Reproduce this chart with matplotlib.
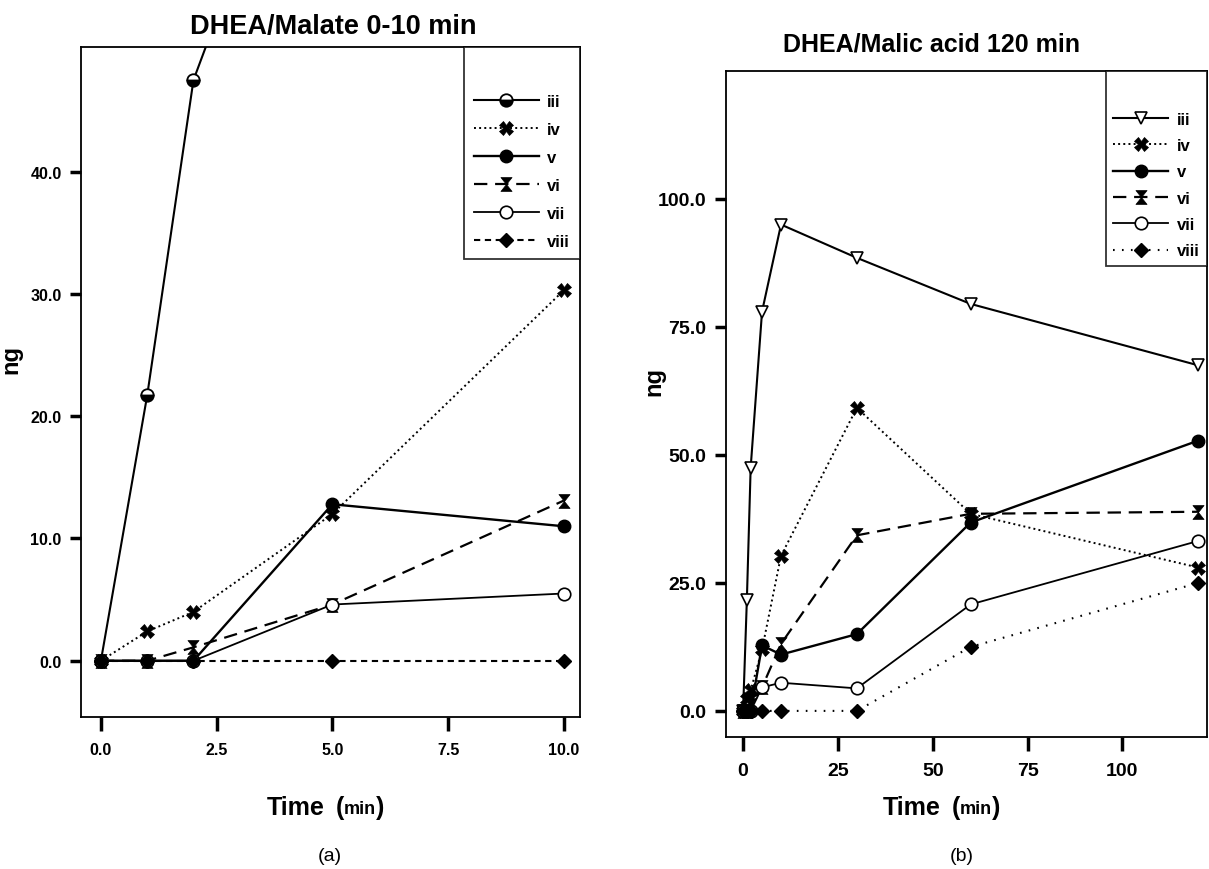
import numpy as np
import matplotlib
matplotlib.use("Agg")
from matplotlib import pyplot as plt
from matplotlib.path import Path
from matplotlib.ticker import FormatStrFormatter

plt.rcParams['font.family'] = ['Liberation Sans', 'DejaVu Sans']

# sampling times (min)
times = [0, 1, 2, 5, 10, 30, 60, 120]
n_short = 5  # first five samples are the 0-10 min run

# amounts (ng) for each compound
iii = [0.0, 21.7, 47.5, 78.0, 95.0, 88.5, 79.5, 67.5]
iv = [0.0, 2.4, 4.0, 12.0, 30.3, 59.2, 38.5, 28.0]
v = [0.0, 0.0, 0.0, 12.8, 11.0, 15.0, 36.8, 52.8]
vi = [0.0, 0.0, 1.1, 4.6, 13.1, 34.3, 38.5, 38.9]
vii = [0.0, 0.0, 0.0, 4.6, 5.5, 4.4, 20.8, 33.2]
viii = [0.0, 0.0, 0.0, 0.0, 0.0, 0.0, 12.5, 25.0]

names = ['iii', 'iv', 'v', 'vi', 'vii', 'viii']
series = [iii, iv, v, vi, vii, viii]

ticks_a_x = [0, 2.5, 5, 7.5, 10]
ticks_a_y = [0, 10, 20, 30, 40]
ticks_b_x = [0, 25, 50, 75, 100]
ticks_b_y = [0, 25, 50, 75, 100]

W, H = 1209, 870

# hourglass marker (two triangles tip to tip)
hourglass = Path([(-0.8, 1), (0.8, 1), (-0.8, -1), (0.8, -1), (-0.8, 1)],
                 [Path.MOVETO, Path.LINETO, Path.LINETO, Path.LINETO, Path.CLOSEPOLY])


def styles(panel):
    # one style dict per compound, same order as names
    iii_style = dict(ls='-', lw=1.5, marker='o', ms=9, fillstyle='bottom',
                     mfc='black', mfcalt='white', mec='black', mew=1.3)
    if panel == 'b':
        iii_style = dict(ls='-', lw=1.5, marker='v', ms=9, mfc='white', mec='black', mew=1.2)
    viii_dash = (3, 2.2) if panel == 'a' else (0.8, 3.5)
    return [
        iii_style,
        dict(ls=':', lw=1.4, marker='X', ms=10, mfc='black', mec='black', mew=0.5),
        dict(ls='-', lw=1.7, marker='o', ms=9, mfc='black', mec='black'),
        dict(ls=(0, (6, 3.5)), lw=1.6, marker=hourglass, ms=10, mfc='black', mec='black', mew=0.5),
        dict(ls='-', lw=1.3, marker='o', ms=9, mfc='white', mec='black', mew=1.2),
        dict(ls=(0, viii_dash), lw=1.5, marker='D', ms=7, mfc='black', mec='black'),
    ]


def px_axes(left, right, top, bottom):
    return fig.add_axes([left / W, 1 - bottom / H, (right - left) / W, (bottom - top) / H])


def px_in_axes(ax, x, y):
    # figure pixel position -> axes fraction
    l, b, w, h = ax.get_position().bounds
    return (x / W - l) / w, (1 - y / H - b) / h


def style_axes(ax, fmt, size):
    for s in ax.spines.values():
        s.set_linewidth(1.3)
    ax.tick_params(direction='out', length=8, width=2.5, pad=6)
    ax.tick_params(axis='x', length=10, pad=8)
    ax.yaxis.set_major_formatter(FormatStrFormatter('%.1f'))
    ax.xaxis.set_major_formatter(FormatStrFormatter(fmt))
    for label in ax.get_xticklabels() + ax.get_yticklabels():
        label.set_fontsize(size)
        label.set_fontweight('bold')


def add_legend(ax, spacing, top_gap, hlen, pad):
    leg = ax.legend(loc='upper right', borderaxespad=0, frameon=True, fancybox=False,
                    edgecolor='black', handlelength=hlen, labelspacing=spacing, handletextpad=0.5,
                    borderpad=pad, prop={'size': 12, 'weight': 'bold'}, title=' ', title_fontsize=top_gap)
    leg.get_frame().set_linewidth(1.3)
    return leg


def time_label(x0, y0):
    # "Time" big, "(min)" with smaller min
    fig.text(x0 / W, 1 - y0 / H, 'Time', fontsize=18, fontweight='bold', va='center', ha='left')
    fig.text((x0 + 69) / W, 1 - y0 / H, '(', fontsize=18, fontweight='bold', va='center', ha='left')
    fig.text((x0 + 77) / W, 1 - (y0 + 2) / H, 'min', fontsize=13, fontweight='bold', va='center', ha='left')
    fig.text((x0 + 109) / W, 1 - y0 / H, ')', fontsize=18, fontweight='bold', va='center', ha='left')


fig = plt.figure(figsize=(W / 100, H / 100), dpi=100)

# ---- (a) 0-10 min ----
ax = px_axes(81, 580, 48, 718)
for name, ys, st in zip(names, series, styles('a')):
    ax.plot(times[:n_short], ys[:n_short], color='black', label=name, **st)
ax.set_xlim(-0.43, 10.35)
ax.set_ylim(-4.6, 50.2)
ax.set_xticks(ticks_a_x)
ax.set_yticks(ticks_a_y)
style_axes(ax, '%.1f', 11.5)
ax.set_ylabel('ng', fontsize=17, fontweight='bold')
ax.yaxis.set_label_coords(*px_in_axes(ax, 22, 360))
add_legend(ax, 0.78, 18, 3.9, 0.6)
fig.text(333 / W, 1 - 27 / H, 'DHEA/Malate 0-10 min', fontsize=19.5, fontweight='bold', ha='center', va='center')
time_label(267, 808)
fig.text(330 / W, 1 - 857 / H, '(a)', fontsize=14, ha='center', va='center')

# ---- (b) 120 min ----
ax = px_axes(726, 1207, 72, 738)
for name, ys, st in zip(names, series, styles('b')):
    ax.plot(times, ys, color='black', label=name, **st)
ax.set_xlim(-4.5, 122.3)
ax.set_ylim(-5.1, 125)
ax.set_xticks(ticks_b_x)
ax.set_yticks(ticks_b_y)
style_axes(ax, '%d', 14)
ax.set_ylabel('ng', fontsize=17, fontweight='bold')
ax.yaxis.set_label_coords(*px_in_axes(ax, 665, 382))
add_legend(ax, 0.68, 17, 3.3, 0.45)
fig.text(932 / W, 1 - 45 / H, 'DHEA/Malic acid 120 min', fontsize=18, fontweight='bold', ha='center', va='center')
time_label(883, 808)
fig.text(962 / W, 1 - 857 / H, '(b)', fontsize=14, ha='center', va='center')

fig.savefig('out.png', dpi=100)
